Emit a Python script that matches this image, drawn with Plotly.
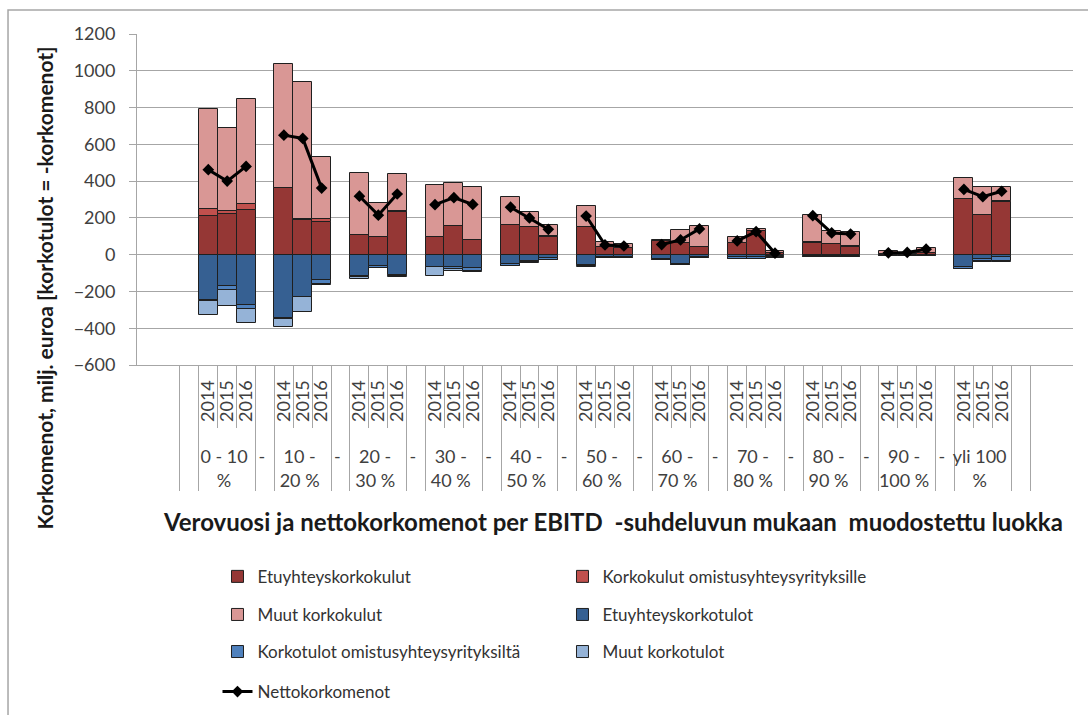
import plotly.graph_objects as go

# ---------------- data ----------------
groups = ["0 - 10<br>%", "10 -<br>20 %", "20 -<br>30 %", "30 -<br>40 %", "40 -<br>50 %",
          "50 -<br>60 %", "60 -<br>70 %", "70 -<br>80 %", "80 -<br>90 %", "90 -<br>100 %",
          "yli 100<br>%"]
years = ["2014", "2015", "2016"]

etuyhteys_kulut = [212, 221, 243, 360, 190, 180, 107, 95, 234, 95, 156, 80,
                   161, 149, 98, 149, 40, 35, 75, 62, 40, 62, 128, 10,
                   65, 58, 44, 5, 3, 7, 301, 216, 288]
omistus_kulut = [36, 18, 33, 5, 3, 15, 2, 2, 3, 2, 2, 2,
                 2, 2, 2, 3, 3, 2, 2, 2, 2, 2, 2, 1,
                 2, 2, 2, 1, 1, 1, 3, 2, 2]
muut_kulut = [543, 448, 569, 672, 748, 335, 337, 186, 202, 282, 234, 284,
              149, 83, 61, 113, 28, 21, 3, 70, 114, 31, 8, 11,
              149, 70, 79, 16, 6, 27, 111, 152, 80]
etuyhteys_tulot = [-246, -168, -273, -346, -228, -138, -116, -61, -110, -65, -69, -74,
                   -50, -33, -18, -55, -10, -10, -25, -51, -10, -15, -15, -8,
                   -5, -6, -6, -4, -2, -2, -65, -22, -15]
omistus_tulot = [-6, -22, -24, -5, -3, -20, -3, -10, -8, -3, -10, -16,
                 -10, -8, -9, -8, -8, -8, -4, -5, -8, -8, -8, -7,
                 -8, -8, -8, -3, -2, -3, -12, -14, -22]
muut_tulot = [-77, -90, -76, -40, -80, -7, -15, -3, -1, -48, -12, -2,
              -2, -2, -2, -2, -2, -2, -1, -1, -1, -1, -1, -1,
              -1, -1, -1, -1, -1, -1, -3, -2, -1]
netto = [462, 400, 480, 650, 632, 362, 318, 215, 330, 272, 310, 273,
         258, 200, 138, 210, 53, 47, 55, 80, 140, 75, 125, 8,
         212, 118, 112, 10, 12, 30, 355, 315, 345]

series_names = ["Etuyhteyskorkokulut", "Korkokulut omistusyhteysyrityksille", "Muut korkokulut",
                "Etuyhteyskorkotulot", "Korkotulot omistusyhteysyrityksiltä", "Muut korkotulot"]
line_name = "Nettokorkomenot"

# ---------------- categories (with blank gap categories) ----------------
ZW = "\u200b"
PAD = "\u00a0" * 3   # leading padding (lies below the rotated year text)
outer, inner = [ZW], [ZW]
for gi, g in enumerate(groups):
    for yr in years:
        outer.append(g)
        inner.append(PAD + yr)
    if gi < len(groups) - 1:
        outer.append("-" + ZW * gi)
        inner.append(ZW)
outer.append(ZW * 2)
inner.append(ZW)


def expand(vals):
    out = [None]
    for gi in range(len(groups)):
        out += vals[3 * gi:3 * gi + 3]
        if gi < len(groups) - 1:
            out.append(None)
    out.append(None)
    return out


colors = ["#953735", "#C0504D", "#D99795", "#366092", "#4F81BD", "#95B3D7"]
legends = ["legend", "legend", "legend2", "legend2", "legend3", "legend3"]
values = [etuyhteys_kulut, omistus_kulut, muut_kulut, etuyhteys_tulot, omistus_tulot, muut_tulot]

FONT = "Lato"
GRID = "#a6a6a6"

fig = go.Figure()
for name, vals, col, lg in zip(series_names, values, colors, legends):
    fig.add_trace(go.Bar(
        x=[outer, inner], y=expand(vals), name=name,
        marker=dict(color=col, line=dict(color="#1f1f1f", width=1)),
        legend=lg,
    ))
fig.add_trace(go.Scatter(
    x=[outer, inner], y=expand(netto), name=line_name, mode="lines+markers",
    line=dict(color="black", width=3),
    marker=dict(symbol="diamond", size=9, color="black"),
    legend="legend4",
))

leg_common = dict(orientation="h", entrywidth=300, entrywidthmode="pixels",
                  font=dict(family=FONT, size=17, color="#333333"),
                  bgcolor="rgba(0,0,0,0)", xanchor="left", yanchor="middle",
                  x=0.086, traceorder="normal")

fig.update_layout(
    width=1088, height=715, autosize=False,
    margin=dict(l=137, r=15, t=34, b=350, autoexpand=False),
    paper_bgcolor="white", plot_bgcolor="white",
    barmode="relative", bargap=0,
    font=dict(family=FONT, color="#404040"),
    legend=dict(leg_common, y=-0.640),
    legend2=dict(leg_common, y=-0.755),
    legend3=dict(leg_common, y=-0.867),
    legend4=dict(leg_common, y=-0.988),
    xaxis=dict(
        type="multicategory", showgrid=False, automargin=False,
        tickmode="linear", tick0=0, dtick=1,
        showline=True, linecolor=GRID, linewidth=1,
        ticks="outside", tickson="boundaries", ticklen=62, tickcolor=GRID, tickwidth=1,
        tickangle=-90, ticklabelstandoff=7,
        tickfont=dict(family=FONT, size=18, color="#404040"),
        showdividers=True, dividercolor=GRID, dividerwidth=1,
    ),
    yaxis=dict(
        range=[-600, 1200], tick0=0, dtick=200, automargin=False,
        showgrid=True, gridcolor=GRID, gridwidth=1,
        zeroline=True, zerolinecolor=GRID, zerolinewidth=1,
        showline=True, linecolor=GRID, linewidth=1,
        ticks="outside", ticklen=7, tickcolor=GRID,
        ticklabelstandoff=10,
        tickfont=dict(family=FONT, size=18, color="#404040"),
    ),
    annotations=[
        dict(text="<b>Korkomenot, milj. euroa [korkotulot = -korkomenot]</b>",
             textangle=-90, xref="paper", yref="paper", x=-0.0983, y=0.234,
             xanchor="center", yanchor="middle", showarrow=False,
             font=dict(family=FONT, size=21, color="#1a1a1a")),
        dict(text="<b>Verovuosi ja nettokorkomenot per EBITD  -suhdeluvun mukaan  muodostettu luokka</b>",
             xref="paper", yref="paper", x=0.5085, y=-0.4713,
             xanchor="center", yanchor="middle", showarrow=False,
             font=dict(family=FONT, size=24, color="#1a1a1a")),
    ],
    shapes=[
        dict(type="rect", xref="paper", yref="paper", x0=-0.1378, y0=1.0725, x1=1.05, y1=-1.2,
             line=dict(color=GRID, width=1.5), fillcolor="rgba(0,0,0,0)", layer="below"),
    ],
)

fig.write_html("out.html")
